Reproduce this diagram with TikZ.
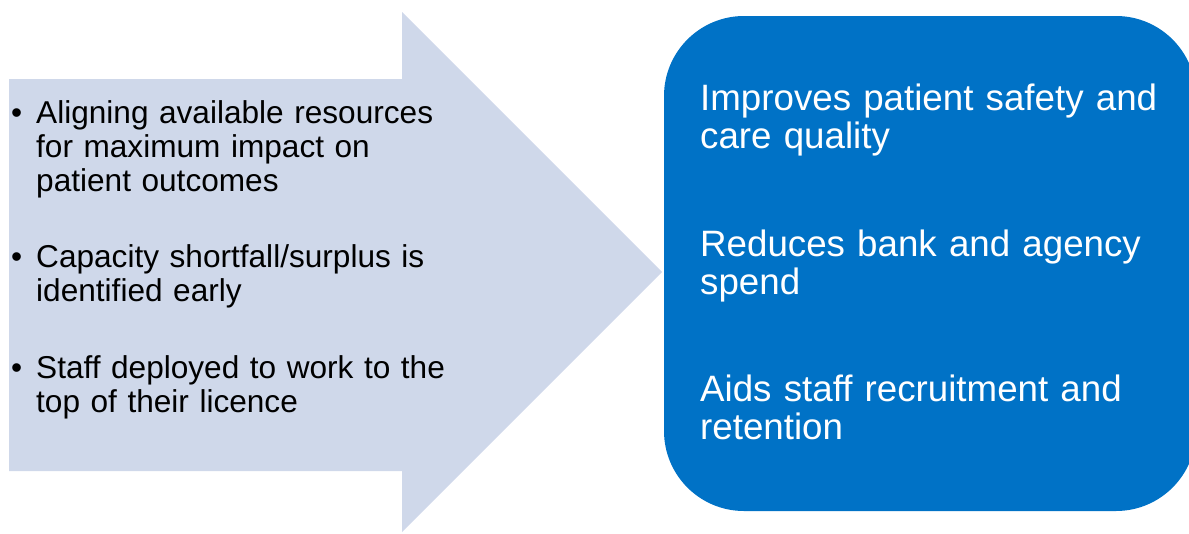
\documentclass[tikz,border=0pt]{standalone}
\usepackage{fontspec}
\setmainfont{Liberation Sans}
\definecolor{arrowfill}{HTML}{CFD8EA}
\definecolor{boxblue}{HTML}{0072C6}
\begin{document}
\begin{tikzpicture}[x=1pt, y=-1pt,
    lefttext/.style={anchor=base west, inner sep=0pt, text width=440pt, align=left,
      font=\fontsize{31.6}{34}\selectfont},
    righttext/.style={anchor=base west, inner sep=0pt, text width=480pt, align=left,
      text=white, font=\fontsize{36.7}{38.8}\selectfont}]
        \useasboundingbox (0,0) rectangle (1189,533);
        % big arrow
        \fill [arrowfill] (9,79) -- (402,79) -- (402,12) -- (662,272)
          -- (402,532) -- (402,471) -- (9,471) -- cycle;
        % rounded box
        \fill [boxblue, rounded corners=80pt] (664,16) rectangle (1196,511);
        % bullets on the arrow
        \node [lefttext] (dot1) at (11,123) {•};
        \node [lefttext] (item1) at (36,123) {Aligning available resources\\for maximum impact on\\patient outcomes};
        \node [lefttext] (dot2) at (11,267) {•};
        \node [lefttext] (item2) at (36,267) {Capacity shortfall/surplus is\\identified early};
        \node [lefttext] (dot3) at (11,378) {•};
        \node [lefttext] (item3) at (36,378) {Staff deployed to work to the\\top of their licence};
        % results in the box
        \node [righttext] (res1) at (700,110) {Improves patient safety and\\care quality};
        \node [righttext] (res2) at (700,256) {Reduces bank and agency\\spend};
        \node [righttext] (res3) at (700,401) {Aids staff recruitment and\\retention};
      \end{tikzpicture}
\end{document}
